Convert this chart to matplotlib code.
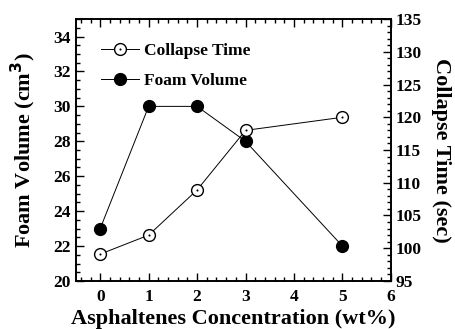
import matplotlib
matplotlib.use("Agg")
import matplotlib.pyplot as plt
from matplotlib.ticker import MultipleLocator

plt.rcParams['font.family'] = ['Liberation Serif', 'DejaVu Serif']
plt.rcParams['font.weight'] = 'bold'

# data
conc_foam = [0, 1, 2, 3, 5]
foam_volume = [23, 30, 30, 28, 22]
conc_collapse = [0, 1, 2, 3, 5]
collapse_time = [99.1, 102, 108.9, 118, 120]

fig, ax = plt.subplots(figsize=(4.55, 3.29), dpi=100)
fig.subplots_adjust(left=0.167, right=0.859, top=0.942, bottom=0.146)
ax2 = ax.twinx()

# foam volume on left axis
foam_line, = ax.plot(conc_foam, foam_volume, color='black', lw=0.7,
                     marker='o', ms=8.5, mfc='black', mec='black', zorder=3)
# collapse time on right axis (open circle with small centre dot)
ct_line, = ax2.plot(conc_collapse, collapse_time, color='black', lw=0.7,
                    marker='o', ms=8.5, mfc='white', mec='black', mew=1.0)
ct_dot, = ax2.plot(conc_collapse, collapse_time, ls='none', marker='o',
                   ms=1.5, mfc='black', mec='black', mew=0)

ax.set_xlim(-0.5, 6)
ax.set_ylim(20, 35)
ax2.set_ylim(95, 135)

ax.xaxis.set_major_locator(MultipleLocator(1))
ax.xaxis.set_minor_locator(MultipleLocator(0.2))
ax.yaxis.set_major_locator(MultipleLocator(2))
ax.yaxis.set_minor_locator(MultipleLocator(0.5))
ax2.yaxis.set_major_locator(MultipleLocator(5))
ax2.yaxis.set_minor_locator(MultipleLocator(1))

ax.tick_params(which='both', direction='in', top=True, labelsize=12.5, width=1)
ax.tick_params(which='major', length=6)
ax.tick_params(which='minor', length=3)
ax.tick_params(axis='x', pad=6)
ax2.tick_params(which='both', direction='in', labelsize=12.5, width=1)
ax2.tick_params(which='major', length=6)
ax2.tick_params(which='minor', length=3)
for lbl in ax.get_xticklabels() + ax.get_yticklabels() + ax2.get_yticklabels():
    lbl.set_fontweight('bold')

ax.set_yticks(range(20, 35, 2))
ax2.set_yticks(range(95, 136, 5))

ax.set_xlabel("Asphaltenes Concentration (wt%)", fontsize=16, fontweight='bold', labelpad=3)
ax.set_ylabel("Foam Volume (cm$^\\mathbf{3}$)", fontsize=16, fontweight='bold', labelpad=11)
ax2.set_ylabel("Collapse Time (sec)", fontsize=16, fontweight='bold',
               rotation=270, labelpad=21)

for sp in list(ax.spines.values()) + list(ax2.spines.values()):
    sp.set_linewidth(1.2)

ax.legend([(ct_line, ct_dot), foam_line], ["Collapse Time", "Foam Volume"],
          loc='upper left', frameon=False, handlelength=2.2,
          handletextpad=0.3, labelspacing=0.8, bbox_to_anchor=(0.03, 0.97),
          prop={'weight': 'bold', 'size': 12.5})

fig.savefig("out.png", dpi=100)
